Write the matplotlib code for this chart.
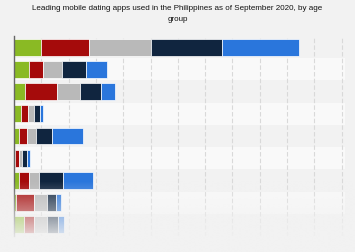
import matplotlib
matplotlib.use("Agg")
import matplotlib.pyplot as plt
import numpy as np

title = "Leading mobile dating apps used in the Philippines as of September 2020, by age\ngroup"
rows = ["r1", "r2", "r3", "r4", "r5", "r6", "r7", "r8", "r9"]
s_green = [5.0, 2.8, 2.1, 1.3, 0.9, 0.1, 0.9, 0.3, 1.8]
s_red = [8.7, 2.6, 5.7, 1.35, 1.5, 0.75, 1.9, 3.3, 1.95]
s_gray = [11.4, 3.4, 4.2, 1.0, 1.6, 0.7, 1.7, 2.45, 2.3]
s_navy = [12.9, 4.3, 3.9, 1.15, 2.9, 0.75, 4.45, 1.65, 2.0]
s_blue = [14.2, 3.9, 2.5, 0.6, 5.75, 0.6, 5.45, 0.9, 1.15]
series = [s_green, s_red, s_gray, s_navy, s_blue]
colors = ["#8aba24", "#a50b0b", "#b9b9b9", "#10253f", "#2a76dc"]
xticks = list(range(0, 61, 5))

bg = "#f2f2f2"
fig = plt.figure(figsize=(3.55, 2.53), dpi=100, facecolor=bg)
ax = fig.add_axes([14/355, 1-237/253, (345-14)/355, 200/253])
ax.set_facecolor(bg)

n = len(rows)
y = np.arange(n)
ax.set_ylim(n - 0.5, -0.5)
ax.set_xlim(0, 60.6)

for i in range(n):
    c = "#f2f2f2" if i % 2 == 0 else "#f9f9f9"
    ax.axhspan(i - 0.5, i + 0.5, color=c, zorder=0, lw=0)

for xt in xticks[1:]:
    ax.axvline(xt, color="#d9d9d9", lw=0.8, ls=(0, (4, 2)), zorder=1)

left = np.zeros(n)
for vals, col in zip(series, colors):
    ax.barh(y, vals, left=left, height=0.76, color=col, edgecolor="white",
            linewidth=0.5, zorder=3)
    left += np.array(vals)

for s in ["top", "right", "bottom"]:
    ax.spines[s].set_visible(False)
ax.spines["left"].set_color("#666666")
ax.spines["left"].set_linewidth(1.0)
ax.spines["left"].set_zorder(4)
ax.set_xticks([])
ax.set_yticks([])

fig.text(0.5, 1-5/253, title, ha="center", va="top", fontsize=5.8,
         family="Liberation Sans", color="#111111", linespacing=1.75)

# fade overlay at the bottom
h0, h1 = 182, 244
ov = fig.add_axes([0, 0, 1, (253 - h0)/253], zorder=10)
N = 200
ys = np.linspace(h0, 253, N)
alpha = np.clip((ys - h0) / (h1 - h0), 0, 1)
img = np.zeros((N, 1, 4))
img[:, 0, :3] = np.array([0xf2, 0xf2, 0xf2]) / 255
img[:, 0, 3] = alpha
ov.imshow(img, aspect="auto", extent=[0, 1, 1, 0], interpolation="bilinear")
ov.set_xlim(0, 1)
ov.set_ylim(1, 0)
ov.axis("off")

fig.savefig("out.png", dpi=100, facecolor=bg)
